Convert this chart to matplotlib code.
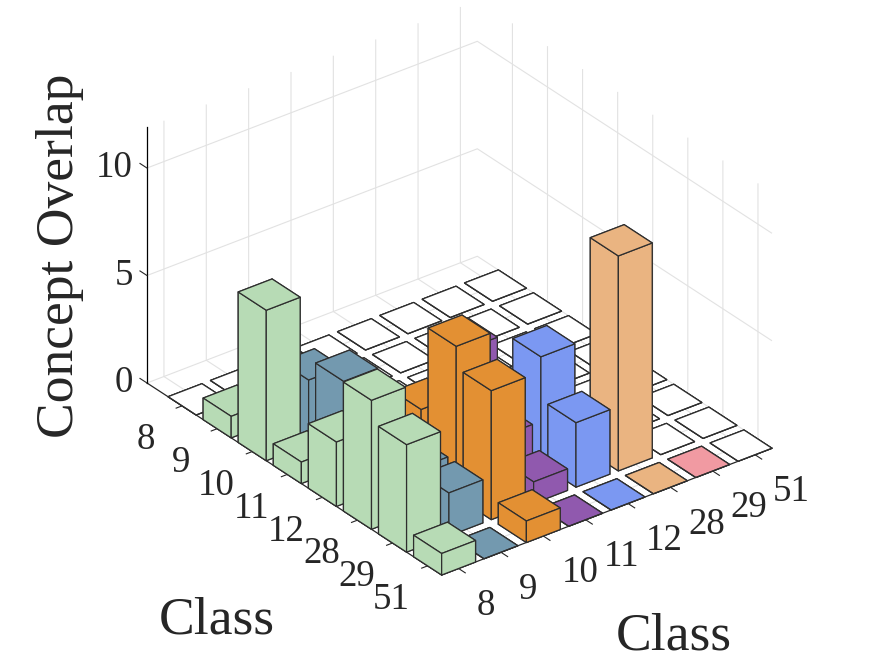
import numpy as np
import matplotlib
matplotlib.use("Agg")
import matplotlib.pyplot as plt
from matplotlib.ticker import NullFormatter
from mpl_toolkits.mplot3d import proj3d

classes = ['8', '9', '10', '11', '12', '28', '29', '51']
z_ticks = [0, 5, 10]

# rows run along the left axis, columns along the right axis
row_8 = [0, 0, 0, 0, 0, 0, 0, 0]
row_9 = [1, 0, 0, 0, 0, 0, 0, 0]
row_10 = [7, 3, 0, 0, 0, 0, 0, 0]
row_11 = [1, 4, 0, 0, 0, 0, 0, 0]
row_12 = [3, 0, 3, 5, 0, 0, 0, 0]
row_28 = [6, 2, 7, 2, 5, 0, 0, 0]
row_29 = [5, 2, 6, 1, 3, 10, 0, 0]
row_51 = [1, 0, 1, 0, 0, 0, 0, 0]
overlap = [row_8, row_9, row_10, row_11, row_12, row_28, row_29, row_51]

col_colors = ['#B7DBB5', '#7399AF', '#E39033', '#9059AE',
              '#7B98F2', '#EAB481', '#F19AA2', '#FFFFFF']

text_color = '#262626'
plt.rcParams['font.family'] = ['Liberation Serif', 'DejaVu Serif']
plt.rcParams['grid.color'] = '#E2E2E2'
plt.rcParams['grid.linewidth'] = 0.8
plt.rcParams['axes.linewidth'] = 0.8

W, H = 875, 656
fig = plt.figure(figsize=(W / 100, H / 100), dpi=100)
ax = fig.add_axes([(W - H) / 2 / W, 0, H / W, 1], projection='3d')
ax.computed_zorder = False
ax.set_proj_type('ortho')
ax.view_init(elev=30, azim=-127.5)   # matlab view(3)

n = len(classes)
xmin, xmax = 0.6, n + 0.4
ymin, ymax = 0.6, n + 1.0
zmax = 11.9
ax.set_box_aspect((416.7, 484.4, 295.6))

# back to front so the bars overlap properly
order = 1
for r in range(n):
    for c in range(n - 1, -1, -1):
        h = overlap[r][c]
        y = n - r
        if h > 0 or r == n - 1:
            face = col_colors[c]
        else:
            face = 'white'
        ax.bar3d(c + 1 - 0.4, y - 0.4, 0, 0.8, 0.8, h, color=face, shade=False,
                 edgecolor='#2E2E2E', linewidth=0.9, zorder=order)
        order += 1

ax.set_xticks(np.arange(1, n + 1))
ax.set_yticks(np.arange(1, n + 1))
ax.set_zticks(z_ticks)

for axis in [ax.xaxis, ax.yaxis, ax.zaxis]:
    axis.set_major_formatter(NullFormatter())
    axis.set_pane_color((1, 1, 1, 0))
    axis.pane.set_edgecolor((1, 1, 1, 0))
    axis.line.set_color(text_color)
    axis.line.set_linewidth(0.9)
    axis._axinfo['tick']['inward_factor'] = 0
    axis._axinfo['tick']['outward_factor'] = 0
ax.zaxis.line.set_color((0, 0, 0, 0))

# z axis on the left corner, plus the small ticks
ax.plot([xmin, xmin], [ymax, ymax], [0, zmax], color='black', lw=0.9, zorder=0)
for z in z_ticks:
    ax.plot([xmin, xmin], [ymax, ymax + 0.2], [z, z], color=text_color, lw=0.8, zorder=0)
for i in range(n):
    ax.plot([i + 1, i + 1], [ymin, ymin - 0.19], [0, 0], color=text_color, lw=0.8, zorder=0)
    ax.plot([xmin, xmin - 0.14], [n - i, n - i], [0, 0], color=text_color, lw=0.8, zorder=0)
ax.set_xlim(xmin, xmax, view_margin=0)
ax.set_ylim(ymin, ymax, view_margin=0)
ax.set_zlim(0, zmax, view_margin=0)


def to_pixels(x, y, z):
    tx, ty, _ = proj3d.proj_transform(x, y, z, ax.get_proj())
    return ax.transData.transform((tx, ty))


# fit the box to the reference: left floor corner and right floor corner
fig.canvas.draw()
left = to_pixels(xmin, ymax, 0)
right = to_pixels(xmax, ymin, 0)
k = (772 - 147) / (right[0] - left[0])
side = H * k
center = np.array([W / 2, H / 2])
target_left = np.array([147, H - 383])
new_center = target_left - k * (left - center)
ax.set_position([(new_center[0] - side / 2) / W, (new_center[1] - side / 2) / H,
                 side / W, side / H])
fig.canvas.draw()


def label_at(x, y, z, dx, dy, text, ha):
    # tick label placed in pixels relative to a point of the 3d box
    px = to_pixels(x, y, z)
    fig.text((px[0] + dx) / W, (px[1] - dy) / H, text, fontsize=26.6, color=text_color,
             ha=ha, va='center')


for i, label in enumerate(classes):
    label_at(i + 1, ymin, 0, 18, 37, label, 'left')
    label_at(xmin, n - i, 0, -36, 34, label, 'center')
for z in z_ticks:
    label_at(xmin, ymax, z, -14, 0, str(z), 'right')

fig.text(217 / W, 1 - 633 / H, 'Class', fontsize=38.5, color=text_color,
         ha='center', va='baseline')
fig.text(674 / W, 1 - 650 / H, 'Class', fontsize=38.5, color=text_color,
         ha='center', va='baseline')
fig.text(60 / W, 1 - 256 / H, 'Concept Overlap', fontsize=38.5, color=text_color,
         rotation=90, ha='center', va='center')

fig.savefig('out.png', dpi=100)
